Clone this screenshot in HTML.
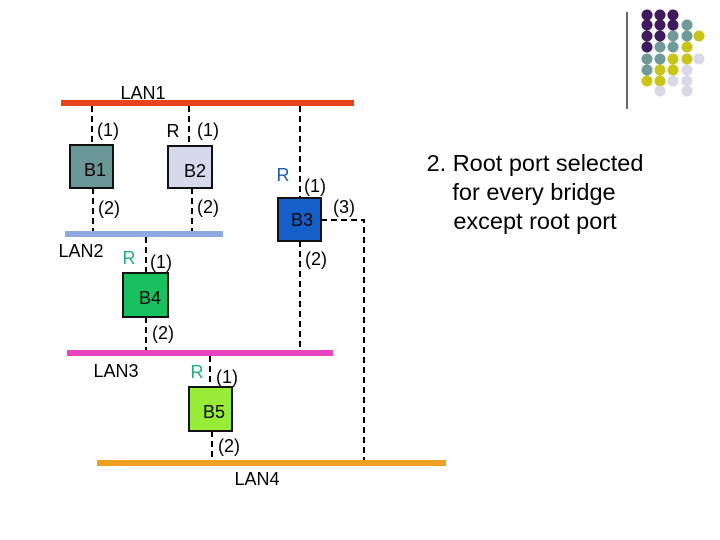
<!DOCTYPE html>
<html><head><meta charset="utf-8"><style>
html,body{margin:0;padding:0;background:#fff;}
svg{display:block;font-family:"Liberation Sans",sans-serif;}
</style></head><body>
<svg width="720" height="540" viewBox="0 0 720 540" xmlns="http://www.w3.org/2000/svg">
<rect width="720" height="540" fill="#fff"/>
<rect x="61" y="100" width="293" height="6" fill="#e8441c"/>
<rect x="65" y="231" width="158" height="6" fill="#8fa8e0"/>
<rect x="67" y="350" width="266" height="6" fill="#e844c0"/>
<rect x="97" y="460" width="349" height="6" fill="#f0a020"/>
<g stroke="#000" stroke-width="2" stroke-dasharray="6,4" fill="none">
<line x1="92" y1="106" x2="92" y2="145"/>
<line x1="93" y1="188" x2="93" y2="231"/>
<line x1="189" y1="106" x2="189" y2="146"/>
<line x1="192" y1="188" x2="192" y2="231"/>
<line x1="300" y1="106" x2="300" y2="198"/>
<line x1="300" y1="241" x2="300" y2="350"/>
<polyline points="321,220 364,220 364,460"/>
<line x1="146" y1="237" x2="146" y2="273"/>
<line x1="146" y1="317" x2="146" y2="350"/>
<line x1="210" y1="356" x2="210" y2="387"/>
<line x1="212" y1="431" x2="212" y2="460"/>
</g>
<g stroke="#111" stroke-width="2">
<rect x="70" y="145" width="43" height="43" fill="#6a9896"/>
<rect x="168" y="146" width="44" height="42" fill="#d8d8ec"/>
<rect x="278" y="198" width="43" height="43" fill="#1560c8"/>
<rect x="123" y="273" width="45" height="44" fill="#18c060"/>
<rect x="189" y="387" width="43" height="44" fill="#98ec38"/>
</g>
<g font-size="18" fill="#000" text-anchor="middle" dominant-baseline="central">
<text x="143" y="93">LAN1</text>
<text x="108" y="130">(1)</text>
<text x="173" y="131">R</text>
<text x="208" y="130">(1)</text>
<text x="95" y="170">B1</text>
<text x="195" y="171">B2</text>
<text x="283" y="175" fill="#1e5ca8">R</text>
<text x="315" y="186">(1)</text>
<text x="344" y="207">(3)</text>
<text x="302" y="220">B3</text>
<text x="109" y="208">(2)</text>
<text x="208" y="207">(2)</text>
<text x="81" y="251">LAN2</text>
<text x="129" y="258" fill="#20b080">R</text>
<text x="161" y="262">(1)</text>
<text x="316" y="259">(2)</text>
<text x="150" y="298">B4</text>
<text x="163" y="333">(2)</text>
<text x="116" y="371">LAN3</text>
<text x="197" y="372" fill="#20b080">R</text>
<text x="227" y="377">(1)</text>
<text x="214" y="412">B5</text>
<text x="229" y="446">(2)</text>
<text x="257" y="479">LAN4</text>
</g>
<g font-size="23.5" fill="#000" text-anchor="middle" dominant-baseline="central">
<text x="535" y="163">2. Root port selected</text>
<text x="534" y="192">for every bridge</text>
<text x="535" y="221">except root port</text>
</g>
<line x1="627" y1="12" x2="627" y2="109" stroke="#000" stroke-width="1.2"/>
<g>
<circle cx="647" cy="15" r="5.5" fill="#3f1a5e"/><circle cx="660" cy="15" r="5.5" fill="#3f1a5e"/><circle cx="673" cy="15" r="5.5" fill="#3f1a5e"/>
<circle cx="647" cy="25" r="5.5" fill="#3f1a5e"/><circle cx="660" cy="25" r="5.5" fill="#3f1a5e"/><circle cx="673" cy="25" r="5.5" fill="#3f1a5e"/><circle cx="687" cy="25" r="5.5" fill="#6f9a98"/>
<circle cx="647" cy="36" r="5.5" fill="#3f1a5e"/><circle cx="660" cy="36" r="5.5" fill="#3f1a5e"/><circle cx="673" cy="36" r="5.5" fill="#6f9a98"/><circle cx="687" cy="36" r="5.5" fill="#6f9a98"/><circle cx="699" cy="36" r="5.5" fill="#c8c41a"/>
<circle cx="647" cy="47" r="5.5" fill="#3f1a5e"/><circle cx="660" cy="47" r="5.5" fill="#6f9a98"/><circle cx="673" cy="47" r="5.5" fill="#6f9a98"/><circle cx="687" cy="47" r="5.5" fill="#c8c41a"/>
<circle cx="647" cy="59" r="5.5" fill="#6f9a98"/><circle cx="660" cy="59" r="5.5" fill="#6f9a98"/><circle cx="673" cy="59" r="5.5" fill="#c8c41a"/><circle cx="687" cy="59" r="5.5" fill="#c8c41a"/><circle cx="699" cy="59" r="5.5" fill="#d8d8e8"/>
<circle cx="647" cy="70" r="5.5" fill="#6f9a98"/><circle cx="660" cy="70" r="5.5" fill="#c8c41a"/><circle cx="673" cy="70" r="5.5" fill="#c8c41a"/><circle cx="687" cy="70" r="5.5" fill="#d8d8e8"/>
<circle cx="647" cy="81" r="5.5" fill="#c8c41a"/><circle cx="660" cy="81" r="5.5" fill="#c8c41a"/><circle cx="673" cy="81" r="5.5" fill="#d8d8e8"/><circle cx="687" cy="81" r="5.5" fill="#d8d8e8"/>
<circle cx="660" cy="91" r="5.5" fill="#d8d8e8"/><circle cx="687" cy="91" r="5.5" fill="#d8d8e8"/>
</g>
</svg>
</body></html>
